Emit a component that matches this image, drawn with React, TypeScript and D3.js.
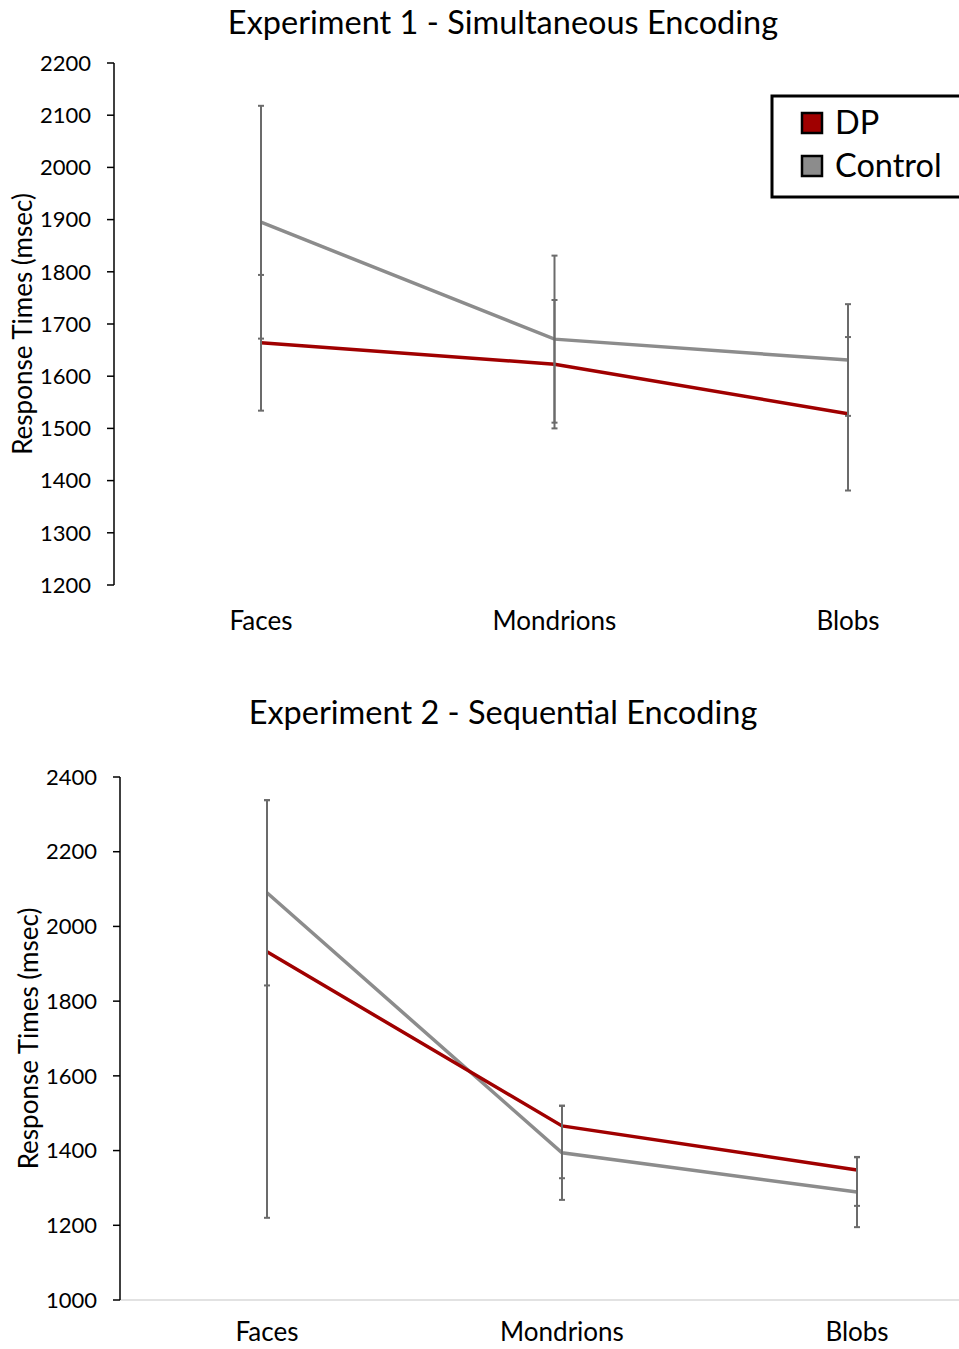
import React from 'react'
import * as d3 from 'd3'

// categories shared by both experiments
const categories = ['Faces', 'Mondrions', 'Blobs']
const seriesNames = ['DP', 'Control']

// Experiment 1 - Simultaneous Encoding
const exp1DP = [1664, 1623, 1528]
const exp1Control = [1895, 1671, 1631]
const exp1DPErrUp = [130, 123, 147]
const exp1DPErrDown = [130, 123, 147]
const exp1ControlErrUp = [223, 160, 107]
const exp1ControlErrDown = [223, 160, 107]
const exp1Ticks = [1200, 1300, 1400, 1500, 1600, 1700, 1800, 1900, 2000, 2100, 2200]

// Experiment 2 - Sequential Encoding
const exp2DP = [1932, 1466, 1348]
const exp2Control = [2090, 1394, 1289]
const exp2DPErrUp = [406, 54, 34]
const exp2DPErrDown = [712, 140, 96]
const exp2ControlErrUp = [248, 126, 94]
const exp2ControlErrDown = [248, 126, 94]
const exp2Ticks = [1000, 1200, 1400, 1600, 1800, 2000, 2200, 2400]

const FONT = 'Lato, "Open Sans", sans-serif'
const DP_COLOR = '#a00000'
const CONTROL_COLOR = '#8c8c8c'
const ERR_COLOR = '#6b6b6b'

interface Series {
  name: string
  values: number[]
  errUp: number[]
  errDown: number[]
  color: string
}

interface PanelProps {
  title: string
  titleY: number
  top: number
  bottom: number
  axisX: number
  xs: number[]
  ticks: number[]
  series: Series[]
  baseline: boolean
  labelX: number
  catY: number
}

function Panel (props: PanelProps) {
  const { title, titleY, top, bottom, axisX, xs, ticks, series, baseline, labelX, catY } = props

  const yScale = d3.scaleLinear()
    .domain([ticks[0], ticks[ticks.length - 1]])
    .range([bottom, top])

  const xScale = d3.scalePoint<string>()
    .domain(categories)
    .range([xs[0], xs[1]])

  const line = d3.line<number>()
    .x((d, i) => xScale(categories[i]) as number)
    .y((d) => yScale(d))

  const midY = (top + bottom) / 2

  return (
    <g>
      <text x={503} y={titleY} textAnchor='middle' fontSize={32.5} fontFamily={FONT} fill='#000'>{title}</text>

      {baseline && (
        <line x1={axisX} x2={959} y1={bottom} y2={bottom} stroke='#d9d9d9' strokeWidth={1.5} />
      )}

      {/* y axis */}
      <line x1={axisX} x2={axisX} y1={top} y2={bottom} stroke='#000' strokeWidth={1.5} />
      {ticks.map((t) => (
        <g key={t}>
          <line x1={axisX - 7} x2={axisX} y1={yScale(t)} y2={yScale(t)} stroke='#000' strokeWidth={1.5} />
          <text x={axisX - 23} y={yScale(t)} dy='0.35em' textAnchor='end' fontSize={22} fontFamily={FONT} fill='#000'>{t}</text>
        </g>
      ))}
      <text
        transform={`translate(${labelX},${midY}) rotate(-90)`}
        textAnchor='middle'
        dy='0.35em'
        fontSize={26}
        fontFamily={FONT}
        fill='#000'
      >Response Times (msec)</text>

      {/* categories */}
      {categories.map((c) => (
        <text key={c} x={xScale(c)} y={catY} dy='0.35em' textAnchor='middle' fontSize={26} fontFamily={FONT} fill='#000'>{c}</text>
      ))}

      {/* lines */}
      {series.slice().reverse().map((s) => (
        <path key={s.name} d={line(s.values) || ''} fill='none' stroke={s.color} strokeWidth={3.5} />
      ))}

      {/* error bars */}
      {series.map((s) => s.values.map((v, i) => {
        const x = xScale(categories[i]) as number
        const y1 = yScale(v + s.errUp[i])
        const y2 = yScale(v - s.errDown[i])
        return (
          <g key={s.name + i} stroke={ERR_COLOR} strokeWidth={2}>
            <line x1={x} x2={x} y1={y1} y2={y2} />
            <line x1={x - 3} x2={x + 3} y1={y1} y2={y1} />
            <line x1={x - 3} x2={x + 3} y1={y2} y2={y2} />
          </g>
        )
      }))}
    </g>
  )
}

function Legend () {
  const colors = [DP_COLOR, CONTROL_COLOR]
  return (
    <g>
      <rect x={772} y={96} width={200} height={101} fill='#fff' stroke='#000' strokeWidth={3} />
      {seriesNames.map((n, i) => (
        <g key={n}>
          <rect x={802} y={113 + i * 43} width={20} height={20} fill={colors[i]} stroke='#000' strokeWidth={2.5} />
          <text x={835} y={123 + i * 43} dy='0.35em' fontSize={32.5} fontFamily={FONT} fill='#000'>{n}</text>
        </g>
      ))}
    </g>
  )
}

export default function App () {
  const exp1Series: Series[] = [
    { name: 'DP', values: exp1DP, errUp: exp1DPErrUp, errDown: exp1DPErrDown, color: DP_COLOR },
    { name: 'Control', values: exp1Control, errUp: exp1ControlErrUp, errDown: exp1ControlErrDown, color: CONTROL_COLOR }
  ]
  const exp2Series: Series[] = [
    { name: 'DP', values: exp2DP, errUp: exp2DPErrUp, errDown: exp2DPErrDown, color: DP_COLOR },
    { name: 'Control', values: exp2Control, errUp: exp2ControlErrUp, errDown: exp2ControlErrDown, color: CONTROL_COLOR }
  ]

  return (
    <svg width={959} height={1349} style={{ position: 'absolute', left: 0, top: 0, background: '#fff' }}>
      <Panel
        title='Experiment 1 - Simultaneous Encoding'
        titleY={34}
        top={63}
        bottom={585}
        axisX={114}
        xs={[261, 848]}
        ticks={exp1Ticks}
        series={exp1Series}
        baseline={false}
        labelX={23}
        catY={621}
      />
      <Panel
        title='Experiment 2 - Sequential Encoding'
        titleY={724}
        top={777}
        bottom={1300}
        axisX={120}
        xs={[267, 857]}
        ticks={exp2Ticks}
        series={exp2Series}
        baseline={true}
        labelX={29}
        catY={1332}
      />
      <Legend />
    </svg>
  )
}
